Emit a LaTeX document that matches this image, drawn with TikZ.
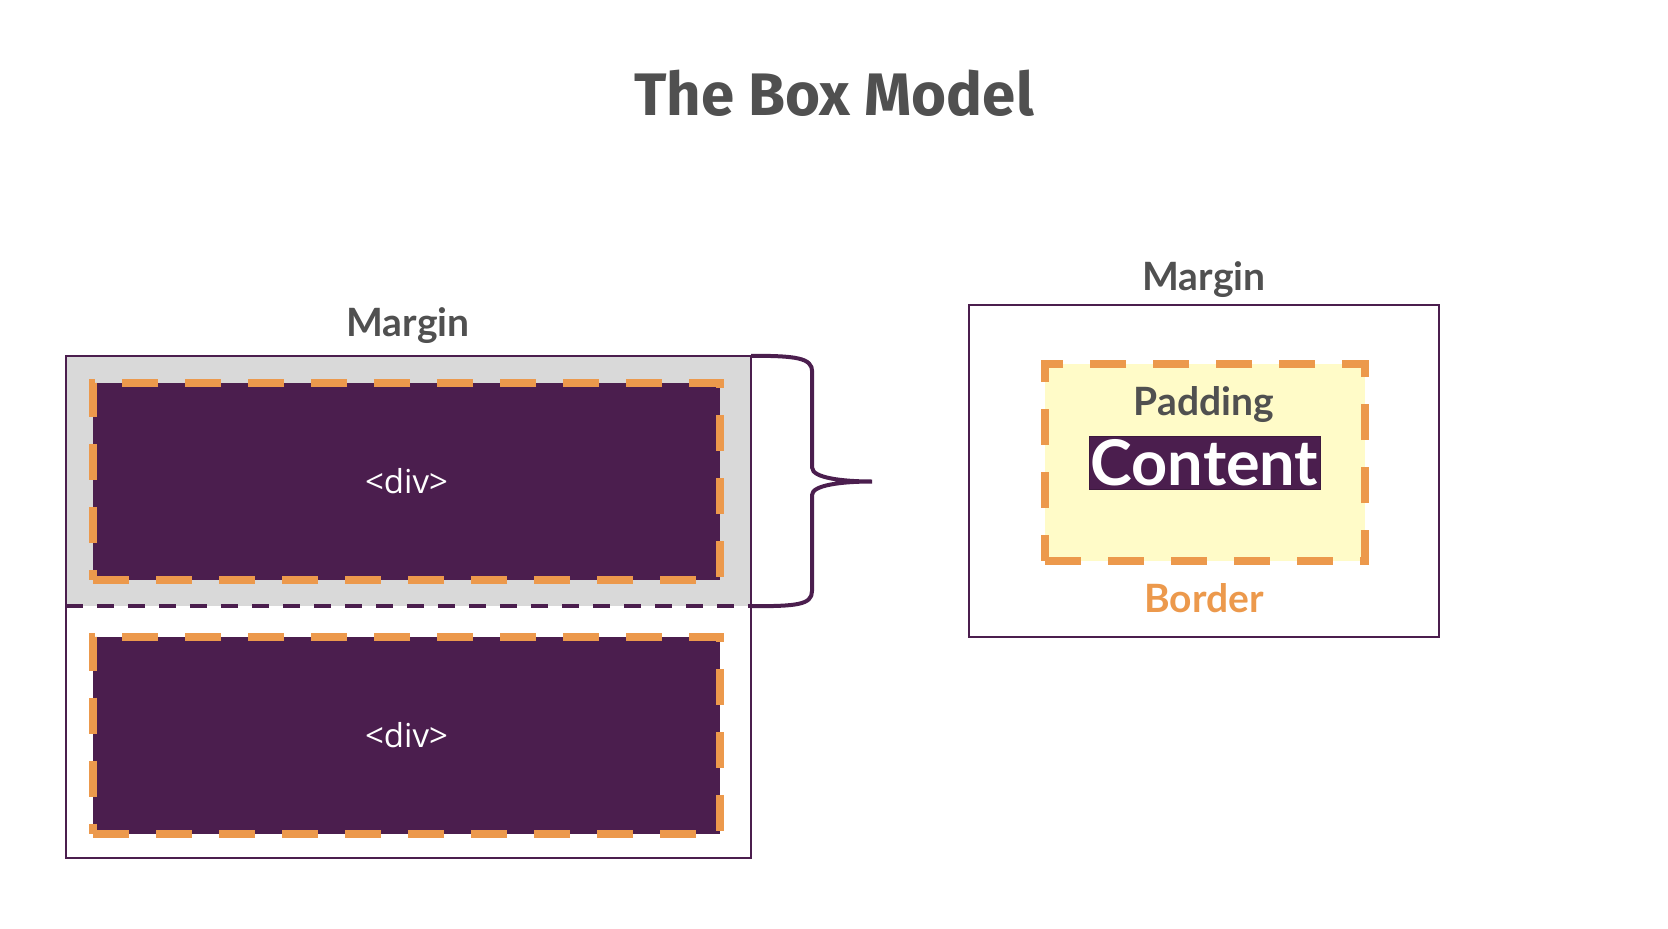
\documentclass[tikz,border=0pt]{standalone}
\usepackage{fontspec}
\setmainfont{Lato}
\newfontfamily\titlefont{Fira Sans}
\newfontfamily\tagfont{Open Sans}
\usepackage{tikz}
\usetikzlibrary{positioning,calc}
\definecolor{Plum}{HTML}{4B1E4E}
\definecolor{Ink}{HTML}{505050}
\definecolor{Peach}{HTML}{EC994C}
\definecolor{Fog}{HTML}{D9D9D9}
\definecolor{Cream}{HTML}{FFFBC8}

\begin{document}
\begin{tikzpicture}[
  x=1pt, y=-1pt,
  marginbox/.style={rectangle, draw=Plum, line width=2pt, inner sep=0pt},
  divbox/.style={rectangle, fill=Plum, draw=Peach, line width=8pt,
                 dash pattern=on 36pt off 27pt, inner sep=0pt,
                 minimum width=627pt, minimum height=197pt,
                 text=white, font=\tagfont\fontsize{33}{38}\selectfont},
  lbl/.style={text=Ink, font=\bfseries\fontsize{39}{42}\selectfont, inner sep=0pt},
  bracel/.style={draw=Plum, line width=4pt},
]
\useasboundingbox (0,0) rectangle (1668,929);
\node[text=Ink, font=\titlefont\bfseries\fontsize{60}{64}\selectfont] (title) at (834,93) {The Box Model};

% stacked divs, first one with its margin shaded
\node[rectangle, fill=Fog, minimum width=685pt, minimum height=250pt, inner sep=0pt] (grayL) at (408.5,481) {};
\node[marginbox, minimum width=685pt, minimum height=502pt] (boxL) at (408.5,607) {};
\node[divbox] (divA) at (406.5,481.5) {<div>};
\node[divbox] (divB) at (406.5,735) {<div>};
\draw[Plum, line width=4pt, dash pattern=on 17pt off 14pt] (grayL.south west) -- (grayL.south east);
\node[lbl] (marginL) at (408,326) {Margin};

\coordinate (tip) at (872,481.5);
\draw[bracel] (grayL.north east) .. controls +(45,0) and +(0,-14) .. ++(61,16)
  -- ++(0,96) .. controls +(0,10) and +(-30,0) .. (tip)
  .. controls +(-30,0) and +(0,-10) .. ++(-60,13.5)
  -- ++(0,96) .. controls +(0,14) and +(45,0) .. (grayL.south east);

% single box, parts labelled
\node[marginbox, minimum width=470pt, minimum height=332pt] (boxR) at (1204,471) {};
\node[rectangle, fill=Cream, draw=Peach, line width=8pt, dash pattern=on 36pt off 27pt,
      minimum width=320pt, minimum height=197pt, inner sep=0pt] (pad) at (1205,462.5) {};
\node[rectangle, fill=Plum, draw=Plum!80!black, line width=1pt, text=white,
      minimum width=231pt, minimum height=53pt, inner sep=0pt,
      font=\bfseries\fontsize{63}{63}\selectfont] (cont) at (1204.5,462.5) {Content};
\node[lbl] (marginR) at (1204,280) {Margin};
\node[lbl] (padding) at (1204,405) {Padding};
\node[lbl, text=Peach] (border) at (1204,598) {Border};
\end{tikzpicture}
\end{document}
